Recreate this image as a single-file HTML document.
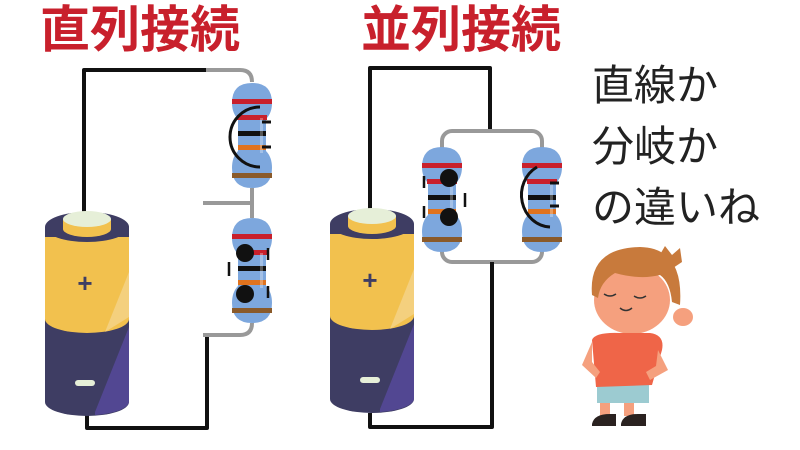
<!DOCTYPE html>
<html><head><meta charset="utf-8"><style>
html,body{margin:0;padding:0;background:#fff;width:800px;height:450px;overflow:hidden}
svg{display:block}
.t{font-family:"Liberation Sans","Noto Sans CJK JP",sans-serif}
</style></head><body>
<svg width="800" height="450" viewBox="0 0 800 450">
<defs>
<linearGradient id="hl" x1="0" y1="0" x2="1" y2="0">
<stop offset="0" stop-color="#fff" stop-opacity="0"/><stop offset="1" stop-color="#fff" stop-opacity="0.25"/>
</linearGradient>
<g id="bat">
  <path d="M0,20 L0,195 A42,14 0 0 0 84,195 L84,20 Z" fill="#3e3d63"/>
  <path d="M0,30 L0,112 A42,14 0 0 0 84,112 L84,30 Z" fill="#f2c14e"/>
  <path d="M50,205 L84,120 L84,195 A42,14 0 0 1 50,208 Z" fill="#5b4ba6" opacity="0.7"/>
  <path d="M60,125 L84,65 L84,110 Z" fill="#f5d693" opacity="0.7"/>
  <ellipse cx="42" cy="20" rx="42" ry="15" fill="#3e3d63"/>
  <path d="M18,12 L18,22 A24,8 0 0 0 66,22 L66,12 Z" fill="#f2c14e"/>
  <ellipse cx="42" cy="12" rx="24" ry="8" fill="#e6efd8"/>
  <text x="40" y="85" font-size="26" font-weight="bold" fill="#3e3d63" text-anchor="middle" class="t">+</text>
  <rect x="30" y="173" width="20" height="6" rx="3" fill="#e6efd8"/>
</g>
<g id="res">
  <path d="M-20,20 Q-20,0 0,0 Q20,0 20,20 Q20,30 14,36 L14,68 Q20,74 20,85 Q20,105 0,105 Q-20,105 -20,85 Q-20,74 -14,68 L-14,36 Q-20,30 -20,20 Z" fill="#7da7dd"/>
  <rect x="-20" y="16" width="40" height="5" fill="#c8202c"/>
  <rect x="-15" y="32" width="30" height="5" fill="#c8202c"/>
  <rect x="-14" y="48" width="28" height="5" fill="#111"/>
  <rect x="-14" y="62" width="28" height="5" fill="#e0731e"/>
  <rect x="-20" y="90" width="40" height="5" fill="#8a5a2a"/>
  <rect x="8" y="35" width="3" height="35" fill="#fff" opacity="0.3"/>
</g>
</defs>

<text x="40" y="47" font-size="50" font-weight="bold" fill="#c8202c" class="t">直列接続</text>
<text x="361" y="47" font-size="50" font-weight="bold" fill="#c8202c" class="t">並列接続</text>
<text x="592" y="100" font-size="42" fill="#222" class="t">直線か</text>
<text x="592" y="161" font-size="42" fill="#222" class="t">分岐か</text>
<text x="592" y="222" font-size="42" fill="#222" class="t">の違いね</text>

<!-- left circuit -->
<g fill="none" stroke-linejoin="round">
<path d="M84,215 L84,70 L206,70" stroke="#111" stroke-width="4"/>
<path d="M206,70 L240,70 Q252,70 252,82" stroke="#999" stroke-width="4"/>
<path d="M252,188 L252,218 M203,203 L252,203" stroke="#999" stroke-width="4"/>
<path d="M252,323 Q252,335 240,335 L203,335" stroke="#999" stroke-width="4"/>
<path d="M207,337 L207,428 L87,428 L87,415" stroke="#111" stroke-width="4"/>
</g>
<use href="#res" x="252" y="83"/>
<use href="#res" x="252" y="218"/>
<path d="M260,107 A30,30 0 0 0 260,167" fill="none" stroke="#111" stroke-width="3"/>
<path d="M262,122 h9 M262,147 h9" stroke="#111" stroke-width="3"/>
<circle cx="245" cy="253" r="9" fill="#111"/><circle cx="245" cy="294" r="9" fill="#111"/>
<path d="M229,262 v14 M268,248 v12 M268,286 v12" stroke="#111" stroke-width="2.5"/>
<use href="#bat" x="45" y="207"/>

<!-- right circuit -->
<g fill="none" stroke-linejoin="round">
<path d="M370,213 L370,68 L490,68 L490,132" stroke="#111" stroke-width="4"/>
<rect x="442" y="131" width="100" height="131" rx="10" stroke="#999" stroke-width="4"/>
<path d="M492,262 L492,427 L370,427 L370,413" stroke="#111" stroke-width="4"/>
</g>
<use href="#res" x="442" y="147"/>
<use href="#res" x="542" y="147"/>
<circle cx="449" cy="178" r="9" fill="#111"/><circle cx="449" cy="217" r="9" fill="#111"/>
<path d="M424,176 v12 M424,206 v12 M465,193 v14" stroke="#111" stroke-width="2.5"/>
<path d="M537,167 A30,32 0 0 0 550,227" fill="none" stroke="#111" stroke-width="3"/>
<path d="M550,183 h9 M550,206 h9" stroke="#111" stroke-width="3"/>
<use href="#bat" x="330" y="204"/>

<!-- boy -->
<g>
<ellipse cx="683" cy="317" rx="10" ry="9" fill="#f5a07e"/>
<ellipse cx="632" cy="300" rx="38" ry="34" fill="#f5a07e"/>
<path d="M592,295 Q588,248 640,247 Q684,248 680,305 L672,302 Q670,282 660,275 Q640,280 615,273 Q600,282 598,298 Z" fill="#c87a3c"/>
<path d="M658,258 L665,246 L672,255 L680,248 L682,262 L670,270 Z" fill="#c87a3c"/>
<path d="M604,294 q6,4 12,0 M634,296 q6,4 12,0 M620,308 q6,5 12,0" stroke="#333" stroke-width="1.5" fill="none"/>
<rect x="600" y="394" width="10" height="22" fill="#f5a07e"/>
<rect x="624" y="394" width="10" height="22" fill="#f5a07e"/>
<rect x="597" y="383" width="52" height="20" fill="#9ccbd1"/>
<path d="M592,340 Q595,332 620,333 L650,333 Q665,335 662,350 L652,385 L596,387 Z" fill="#ef6548"/>
<path d="M592,342 L582,365 L596,378 L600,372 L592,362 Z" fill="#f5a07e"/>
<path d="M658,350 L668,370 L650,380 L646,372 L656,366 Z" fill="#f5a07e"/>
<path d="M592,424 Q594,414 610,414 L616,414 L616,426 L592,426 Z M621,424 Q623,414 638,414 L646,414 L646,426 L621,426 Z" fill="#2a2220"/>
</g>
</svg>
</body></html>
